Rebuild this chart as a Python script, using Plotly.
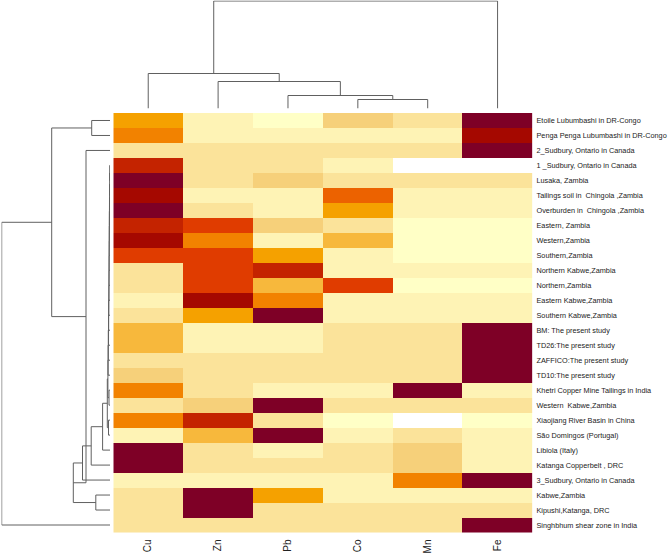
import plotly.graph_objects as go

W, H = 669, 554

# ---------------- data ----------------
elements = ["Cu", "Zn", "Pb", "Co", "Mn", "Fe"]
sites = [
    "Etoile Lubumbashi in DR-Congo",
    "Penga Penga Lubumbashi in DR-Congo",
    "2_Sudbury, Ontario in Canada",
    "1 _Sudbury, Ontario in Canada",
    "Lusaka, Zambia",
    "Tailings soil in  Chingola ,Zambia",
    "Overburden in  Chingola ,Zambia",
    "Eastern, Zambia",
    "Western,Zambia",
    "Southern,Zambia",
    "Northern Kabwe,Zambia",
    "Northern,Zambia",
    "Eastern Kabwe,Zambia",
    "Southern Kabwe,Zambia",
    "BM: The present study",
    "TD26:The present study",
    "ZAFFICO:The present study",
    "TD10:The present study",
    "Khetri Copper Mine Tailings in India",
    "Western  Kabwe,Zambia",
    "Xiaojiang River Basin in China",
    "São Domingos (Portugal)",
    "Libiola (Italy)",
    "Katanga Copperbelt , DRC",
    "3_Sudbury, Ontario in Canada",
    "Kabwe,Zambia",
    "Kipushi,Katanga, DRC",
    "Singhbhum shear zone in India",
]

# colour level (0 = white ... 12 = darkest red) of each cell, per element
Cu = [6, 7, 3, 10, 12, 11, 12, 10, 11, 9, 3, 3, 2, 3, 5, 5, 3, 4, 7, 3, 7, 2, 12, 12, 2, 3, 3, 3]
Zn = [2, 2, 3, 3, 3, 2, 3, 9, 7, 9, 9, 9, 11, 6, 2, 2, 3, 3, 3, 4, 10, 5, 3, 3, 2, 12, 12, 3]
Pb = [1, 2, 3, 3, 4, 2, 2, 4, 2, 6, 10, 5, 7, 12, 2, 2, 3, 3, 2, 12, 3, 12, 2, 3, 2, 6, 3, 3]
Co = [4, 2, 3, 2, 3, 8, 6, 3, 5, 2, 2, 9, 2, 2, 3, 3, 3, 3, 2, 3, 1, 2, 3, 3, 2, 2, 3, 3]
Mn = [3, 2, 3, 0, 3, 2, 2, 1, 1, 1, 2, 1, 2, 2, 3, 3, 3, 3, 12, 3, 0, 3, 4, 4, 7, 2, 3, 3]
Fe = [12, 11, 12, 0, 3, 2, 2, 1, 1, 1, 2, 1, 2, 2, 12, 12, 12, 12, 2, 3, 1, 2, 2, 2, 12, 2, 3, 12]

level_colors = ["#FFFFFF", "#FFFFC6", "#FEF3B5", "#FBE39A", "#F6D07A", "#F7B83C",
                "#F5A100", "#F28200", "#EC6200", "#E03C00", "#C42300", "#A50800", "#7E0026"]

# column dendrogram: merges (left id, right id, height); leaves are 0..5
col_left = [3, 2, 1, 0, 9]
col_right = [4, 6, 7, 8, 5]
col_height = [9, 13, 27, 35, 107.5]

# row dendrogram: merges (left id, right id, height); leaves are 0..27
row_left = [3, 28, 29, 30, 31, 32, 33, 34, 35, 36, 37, 38, 39, 40,
            18, 41, 20, 43, 45, 46, 47, 25, 48, 0, 50, 51, 53]
row_right = [4, 5, 6, 7, 8, 9, 10, 11, 12, 13, 14, 15, 16, 17,
             19, 42, 21, 44, 22, 23, 24, 26, 49, 1, 2, 52, 27]
row_height = [0.3, 0.4, 0.5, 0.6, 0.7, 0.8, 0.9, 1.0, 1.1, 1.2, 1.4, 1.5, 1.7, 1.9,
              1.0, 2.1, 1.5, 2.7, 7.4, 18.8, 27.5, 14.2, 36.7, 18.3, 24.0, 58.3, 108.3]

# ---------------- figure ----------------
z = [[Cu[i], Zn[i], Pb[i], Co[i], Mn[i], Fe[i]] for i in range(len(sites))]
n = len(level_colors)
cscale = []
for k, c in enumerate(level_colors):
    cscale.append([k / n, c])
    cscale.append([(k + 1) / n, c])


def px_x(p):
    return p / W


def px_y(p):
    return 1 - p / H


def dendro_lines(left, right, height, nleaves):
    pos = {i: float(i) for i in range(nleaves)}
    hgt = {i: 0.0 for i in range(nleaves)}
    a, b = [], []
    for k, (l, r, h) in enumerate(zip(left, right, height)):
        node = nleaves + k
        a += [pos[l], pos[l], pos[r], pos[r], None]
        b += [hgt[l], h, h, hgt[r], None]
        pos[node] = (pos[l] + pos[r]) / 2
        hgt[node] = h
    return a, b


fig = go.Figure()
fig.add_trace(go.Heatmap(
    z=z, x=list(range(6)), y=list(range(len(sites))),
    colorscale=cscale, zmin=-0.5, zmax=n - 0.5, showscale=False,
    hoverinfo="skip", xaxis="x", yaxis="y"))

cx, ch = dendro_lines(col_left, col_right, col_height, 6)
fig.add_trace(go.Scatter(x=cx, y=ch, mode="lines", line=dict(color="#606060", width=1),
                         xaxis="x", yaxis="y2", hoverinfo="skip", showlegend=False))

ry, rh = dendro_lines(row_left, row_right, row_height, len(sites))
fig.add_trace(go.Scatter(x=rh, y=ry, mode="lines", line=dict(color="#606060", width=1),
                         xaxis="x2", yaxis="y", hoverinfo="skip", showlegend=False))

hm_x0, hm_x1 = 113.3, 532.5
hm_y0, hm_y1 = 113.0, 532.5

fig.update_layout(
    width=W, height=H, margin=dict(l=0, r=0, t=0, b=0, autoexpand=False),
    paper_bgcolor="white", plot_bgcolor="white", showlegend=False,
    font=dict(family="Liberation Sans, Arial, sans-serif", color="#222222"),
    xaxis=dict(domain=[px_x(hm_x0), px_x(hm_x1)], range=[-0.5, 5.5], anchor="y",
               tickvals=list(range(6)), ticktext=elements, tickangle=-90,
               tickfont=dict(size=10, color="#222222"), ticks="", showgrid=False,
               zeroline=False, showline=False, ticklabelstandoff=4, automargin=False),
    yaxis=dict(domain=[px_y(hm_y1), px_y(hm_y0)], range=[len(sites) - 0.5, -0.5],
               anchor="x", side="right", tickvals=list(range(len(sites))), ticktext=sites,
               tickfont=dict(size=7.3, color="#222222"), ticks="", showgrid=False,
               zeroline=False, showline=False, ticklabelstandoff=3, automargin=False),
    yaxis2=dict(domain=[px_y(108.5), px_y(0.5)], range=[0, 108], anchor="x",
                visible=False, showgrid=False, zeroline=False),
    xaxis2=dict(domain=[px_x(1.5), px_x(110)], range=[108.5, 0], anchor="y",
                visible=False, showgrid=False, zeroline=False),
)

fig.write_html("out.html", config={"displayModeBar": False, "staticPlot": True},
               post_script="document.body.style.margin='0';document.body.style.padding='0';")
